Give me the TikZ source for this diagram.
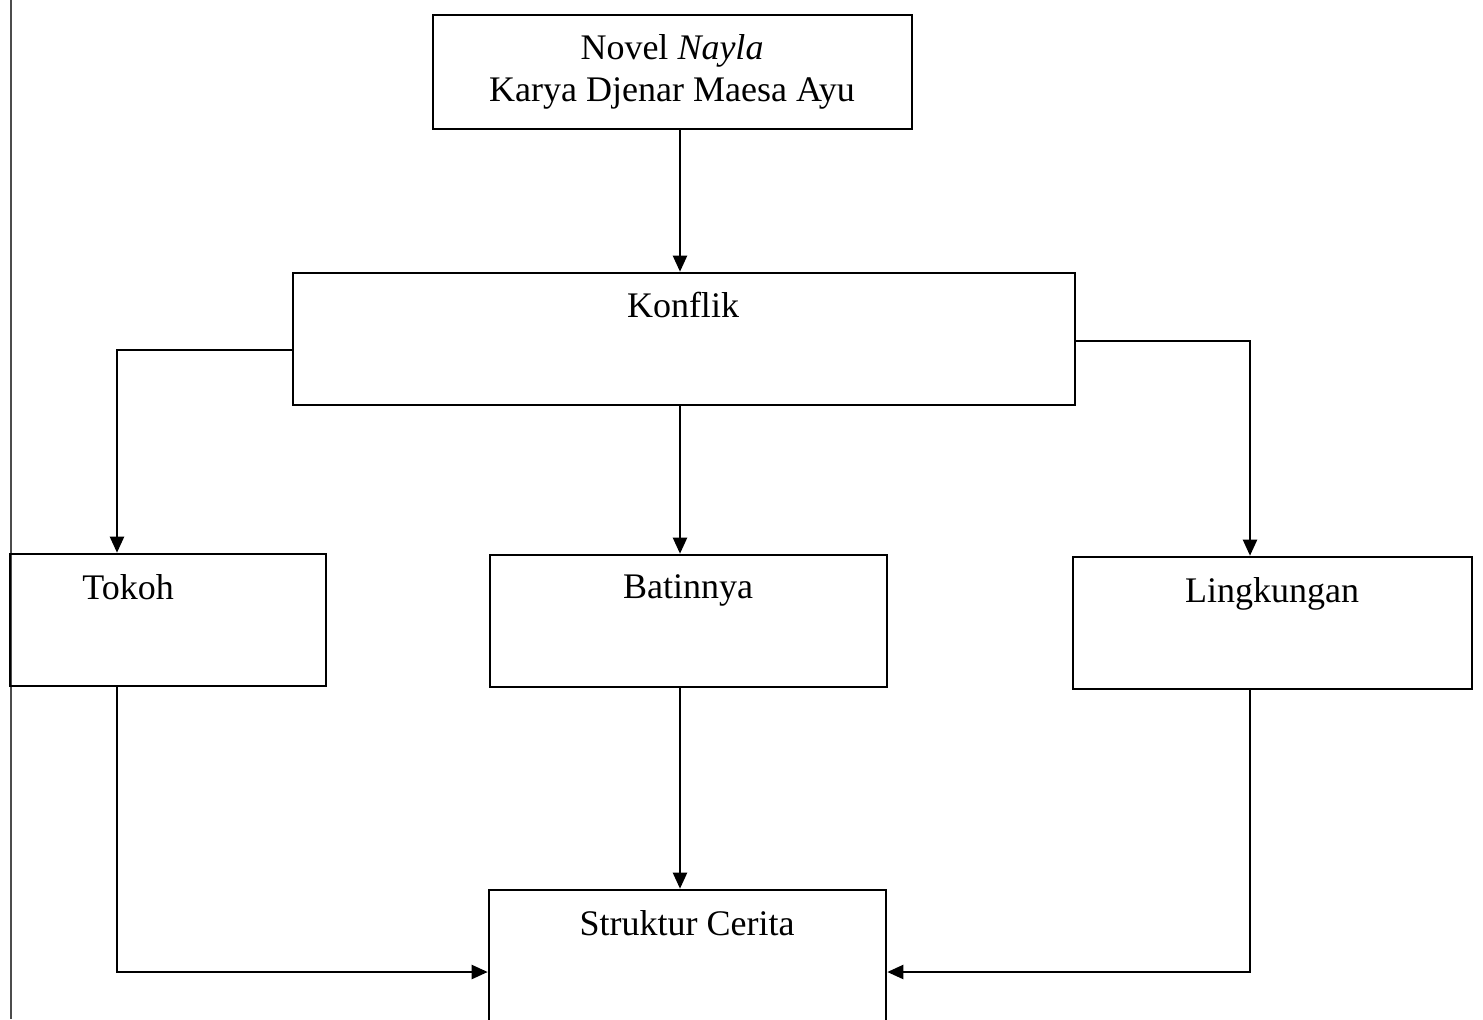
\documentclass[tikz,border=0pt]{standalone}
\usepackage{fontspec}
\setmainfont{Liberation Serif}
\usetikzlibrary{arrows.meta}

\begin{document}
\begin{tikzpicture}[x=0.5pt, y=-0.5pt,
  kotak/.style={rectangle, draw=black, line width=1.3pt, inner sep=0pt, minimum height=66pt},
  teks/.style={anchor=base, inner sep=0pt, font=\fontsize{18}{21}\selectfont},
  panah/.style={line width=1.1pt, color=black, -{Triangle[length=8pt, width=7pt]}},
  garis/.style={line width=1.1pt, color=black}]
\useasboundingbox (0,0) rectangle (1483,1019);
\clip (0,0) rectangle (1483,1019);
\fill[white] (0,0) rectangle (1483,1019);
% garis tepi kiri
\draw [line width=1.2pt, color=black!70] (11,0) -- (11,1019);
% kotak-kotak
\node (novel) [kotak, minimum width=239.5pt, minimum height=57pt] at (672.5, 72) {};
\node (konflik) [kotak, minimum width=391pt] at (684, 339) {};
\node (tokoh) [kotak, minimum width=158pt] at (168, 620) {};
\node (batin) [kotak, minimum width=198.5pt] at (688.5, 621) {};
\node (lingk) [kotak, minimum width=199.5pt] at (1272.5, 623) {};
\node (struktur) [kotak, minimum width=198.5pt, minimum height=82pt] at (687.5, 972) {};
% tulisan
\node (novel-a) [teks] at (672, 59) {Novel \textit{Nayla}};
\node (novel-b) [teks] at (672, 101) {Karya Djenar Maesa Ayu};
\node (konflik-t) [teks] at (683, 317) {Konflik};
\node (tokoh-t) [teks] at (128, 599) {Tokoh};
\node (batin-t) [teks] at (688, 598) {Batinnya};
\node (lingk-t) [teks] at (1272, 602) {Lingkungan};
\node (struktur-t) [teks] at (687, 935) {Struktur Cerita};
% jalur panah
\coordinate (mid) at (680, 0);
\coordinate (lx) at (117, 0);
\coordinate (rx) at (1250, 0);
\draw [panah] (novel.south -| mid) to (konflik.north -| mid);
\draw [panah] ([yshift=-5.5pt]konflik.west) -| (tokoh.north -| lx);
\draw [panah] (konflik.south -| mid) to (batin.north -| mid);
\draw [panah] ([yshift=-1pt]konflik.east) -| (lingk.north -| rx);
\draw [panah] (tokoh.south -| lx) |- (struktur.west);
\draw [panah] (batin.south -| mid) to (struktur.north -| mid);
\draw [panah] (lingk.south -| rx) |- (struktur.east);
\end{tikzpicture}
\end{document}
